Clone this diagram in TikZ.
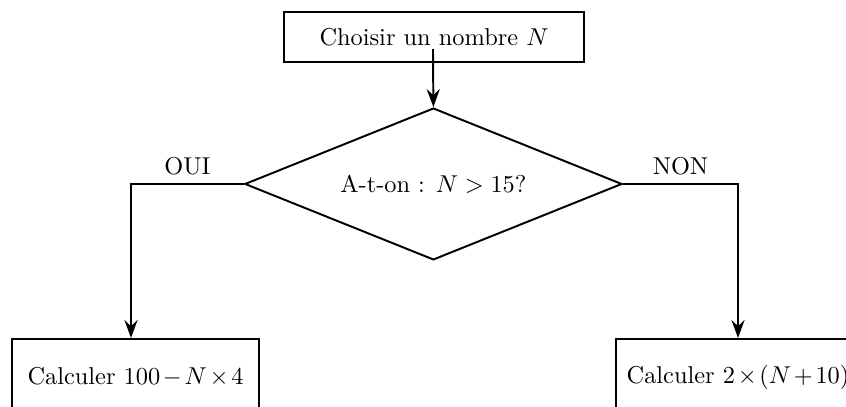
\documentclass[tikz,border=0pt]{standalone}
\usetikzlibrary{shapes.geometric,arrows.meta}
\medmuskip=2mu

\begin{document}
\begin{tikzpicture}[line width=0.8pt,
    boite/.style={draw,rectangle,inner sep=2pt},
    test/.style={draw,diamond,aspect=2.48,inner sep=0pt,minimum width=5.44cm,minimum height=2.19cm},
    fleche/.style={-{Stealth[length=2.6mm,width=1.9mm,inset=0.9mm]}}]
    % Cadre
    \clip (0,0) rectangle (12.2,5.855);

    % Depart
    \node[boite,minimum width=4.33cm,minimum height=0.72cm] (choix) at (6.259,5.32) {Choisir un nombre $N$};
    \coordinate (depart) at (6.244,5.148);

    % Test
    \node[test] (test) at (6.25,3.202) {A-t-on : $N > 15$?};

    % Calculs
    \node[boite,minimum width=3.56cm,minimum height=1.1cm,anchor=north] (calcA) at (1.954,0.981) {Calculer $100 - N \times 4$};
    \node[boite,minimum width=3.52cm,minimum height=1.1cm,anchor=north] (calcB) at (10.643,0.981) {Calculer $2 \times (N + 10)$};

    % Fleches
    \draw[fleche] (depart) -- (test.north);
    \draw[fleche] (test.west) -| node[pos=0.25,above] {OUI} ([xshift=-0.065cm]calcA.north);
    \draw[fleche] (test.east) -| node[pos=0.25,above] {NON} (calcB.north);

\end{tikzpicture}
\end{document}
